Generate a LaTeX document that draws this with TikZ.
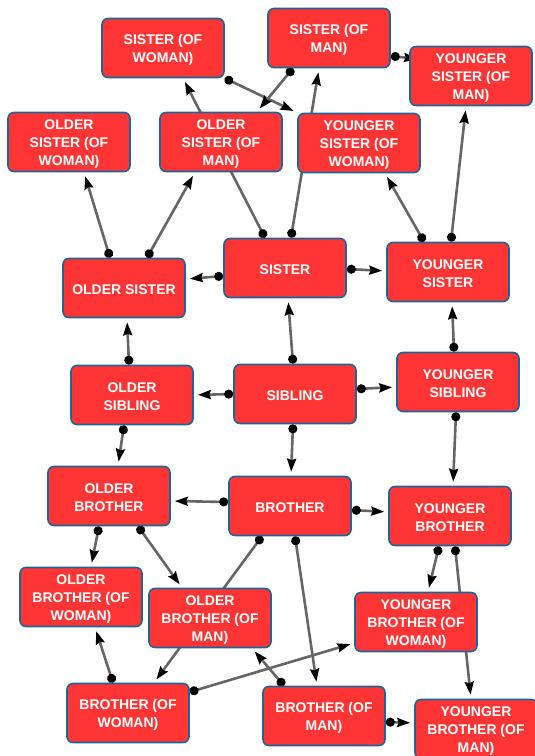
\documentclass[tikz,border=0pt]{standalone}
\usepackage{fontspec}
\setmainfont{Liberation Sans}
\usepackage{tikz}
\usetikzlibrary{arrows.meta, backgrounds}
\definecolor{kinred}{HTML}{FF3535}
\definecolor{kinblue}{HTML}{1A6698}
\definecolor{linkgray}{HTML}{666666}
\newbox\kinbox
\tikzstyle{kin} = [rectangle, rounded corners=6pt, draw=kinblue, line width=1.6pt, fill=kinred, text=white, minimum width=122pt, minimum height=59pt, inner sep=0pt, align=center, font=\fontsize{14}{18.3}\selectfont\bfseries,
  execute at begin node={\setbox\kinbox=\hbox\bgroup},
  execute at end node={\egroup\ht\kinbox=\dimexpr\ht\kinbox+4pt\relax\box\kinbox}]
\tikzstyle{link} = [draw=linkgray, line width=2.6pt, arrows={Circle[black,length=9pt]-Stealth[black,length=13pt,width=9pt,inset=1.5pt]}, shorten >=4pt]

\begin{document}
\begin{tikzpicture}[x=1pt, y=-1pt]
  \useasboundingbox (0,0) rectangle (535,756);

  % Sister side
  \node[kin] (sisw) at (163,48) {SISTER (OF\\WOMAN)};
  \node[kin] (sism) at (329,38) {SISTER (OF\\MAN)};
  \node[kin] (ysism) at (471,76) {YOUNGER\\SISTER (OF\\MAN)};
  \node[kin] (osisw) at (69,142) {OLDER\\SISTER (OF\\WOMAN)};
  \node[kin] (osism) at (221,142) {OLDER\\SISTER (OF\\MAN)};
  \node[kin] (ysisw) at (359,143) {YOUNGER\\SISTER (OF\\WOMAN)};
  \node[kin] (sis) at (285,268) {SISTER};
  \node[kin] (osis) at (124,288) {OLDER SISTER};
  \node[kin] (ysis) at (448,272) {YOUNGER\\SISTER};

  % Sibling row
  \node[kin] (sib) at (295,394) {SIBLING};
  \node[kin] (osib) at (132,395) {OLDER\\SIBLING};
  \node[kin] (ysib) at (458,382) {YOUNGER\\SIBLING};

  % Brother side
  \node[kin] (bro) at (290,506) {BROTHER};
  \node[kin] (obro) at (109,496) {OLDER\\BROTHER};
  \node[kin] (ybro) at (450,516) {YOUNGER\\BROTHER};
  \node[kin] (obrow) at (81,597) {OLDER\\BROTHER (OF\\WOMAN)};
  \node[kin] (obrom) at (210,618) {OLDER\\BROTHER (OF\\MAN)};
  \node[kin] (ybrow) at (416,622) {YOUNGER\\BROTHER (OF\\WOMAN)};
  \node[kin] (brow) at (128,713) {BROTHER (OF\\WOMAN)};
  \node[kin] (brom) at (324,716) {BROTHER (OF\\MAN)};
  \node[kin] (ybrom) at (476,729) {YOUNGER\\BROTHER (OF\\MAN)};

  \begin{pgfonlayer}{background}
    % sister links
    \draw[link] ([yshift=-8pt]sis.west) -- ([yshift=9pt]osis.east);
    \draw[link] ([yshift=-1pt]sis.east) -- ([yshift=1pt]ysis.west);
    \draw[link] ([xshift=-20pt]sis.north) -- ([xshift=20pt]sisw.south);
    \draw[link] ([xshift=6pt]sis.north) -- ([xshift=-10pt]sism.south);
    \draw[link] ([xshift=-14pt]osis.north) -- ([xshift=15pt]osisw.south);
    \draw[link] ([xshift=23pt]osis.north) -- ([xshift=-26pt]osism.south);
    \draw[link] ([xshift=-24pt]ysis.north) -- ([xshift=26pt]ysisw.south);
    \draw[link] ([xshift=3pt]ysis.north) -- ([xshift=-5pt]ysism.south);
    \draw[link] (sisw.south east) -- (ysisw.north west);
    \draw[link] ([xshift=-36pt]sism.south) -- ([xshift=36pt]osism.north);
    \draw[link, shorten >=-8pt] ([yshift=-18pt]sism.east) -- ([yshift=18pt]ysism.west);

    % sibling links
    \draw[link] ([xshift=-2pt]sib.north) -- ([xshift=3pt]sis.south);
    \draw[link] (sib.west) -- (osib.east);
    \draw[link] ([yshift=5pt]sib.east) -- ([yshift=-5pt]ysib.west);
    \draw[link] ([xshift=-2pt]sib.south) -- ([xshift=1pt]bro.north);
    \draw[link] ([xshift=-3pt]osib.north) -- ([xshift=3pt]osis.south);
    \draw[link] ([xshift=-8pt]osib.south) -- ([xshift=9pt]obro.north);
    \draw[link] ([xshift=-4pt]ysib.north) -- ([xshift=4pt]ysis.south);
    \draw[link] ([xshift=-2pt]ysib.south) -- ([xshift=3pt]ybro.north);

    % brother links
    \draw[link] ([yshift=4pt]bro.west) -- ([yshift=-5pt]obro.east);
    \draw[link] ([yshift=-4pt]bro.east) -- ([yshift=4pt]ybro.west);
    \draw[link] ([xshift=-10pt]obro.south) -- ([xshift=10pt]obrow.north);
    \draw[link] ([xshift=29pt]obro.south) -- ([xshift=-28pt]obrom.north);
    \draw[link] ([xshift=-28pt]bro.south) -- ([xshift=26pt]brow.north);
    \draw[link] ([xshift=5pt]bro.south) -- ([xshift=-7pt]brom.north);
    \draw[link] ([xshift=-11pt]ybro.south) -- ([xshift=12pt]ybrow.north);
    \draw[link] ([xshift=5pt]ybro.south) -- ([xshift=-5pt]ybrom.north);
    \draw[link] ([xshift=-15pt]brow.north) -- ([xshift=14pt]obrow.south);
    \draw[link] ([yshift=21pt]brow.east) -- ([yshift=-21pt]ybrow.west);
    \draw[link] ([xshift=-40pt]brom.north) -- ([xshift=42pt]obrom.south);
    \draw[link] ([yshift=-6pt]brom.east) -- ([yshift=6pt]ybrom.west);
  \end{pgfonlayer}
\end{tikzpicture}
\end{document}
